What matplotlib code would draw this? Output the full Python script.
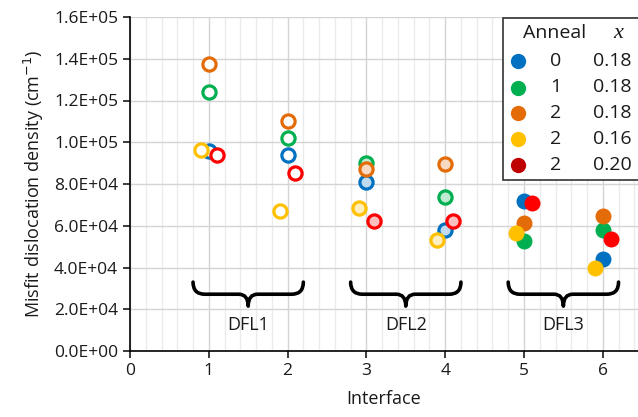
import matplotlib
matplotlib.use("Agg")
import matplotlib.pyplot as plt
from matplotlib.path import Path
from matplotlib.patches import PathPatch, Rectangle
from matplotlib.ticker import FuncFormatter, MultipleLocator
from matplotlib.colors import to_rgb

plt.rcParams['font.family'] = ['Open Sans', 'DejaVu Sans']

# data
interfaces = [1, 2, 3, 4, 5, 6]
anneal = [0, 1, 2, 2, 2]
x_frac = ["0.18", "0.18", "0.18", "0.16", "0.20"]
density = [
    [9.6e4, 9.4e4, 8.1e4, 5.8e4, 7.2e4, 4.4e4],        # anneal 0, x 0.18
    [1.24e5, 1.02e5, 9.0e4, 7.4e4, 5.25e4, 5.8e4],     # anneal 1, x 0.18
    [1.375e5, 1.10e5, 8.7e4, 8.95e4, 6.15e4, 6.45e4],  # anneal 2, x 0.18
    [9.65e4, 6.7e4, 6.85e4, 5.3e4, 5.65e4, 4.0e4],     # anneal 2, x 0.16
    [9.4e4, 8.55e4, 6.25e4, 6.25e4, 7.1e4, 5.35e4],    # anneal 2, x 0.20
]
groups = ["DFL1", "DFL2", "DFL3"]

# styles
colors = ['#0070C0', '#00B050', '#E36C09', '#FFC000', '#FF0000']
legend_colors = ['#0070C0', '#00B050', '#E36C09', '#FFC000', '#C00000']
offsets = [0, 0, 0, -0.1, 0.1]
fill_level = [0, 0, 0.25, 0.25, 1, 1]  # per interface: open, tinted, filled
txt = '#1a1a1a'

fig = plt.figure(figsize=(6.38, 4.17), dpi=100)
ax = fig.add_axes([130 / 638, 1 - 351 / 417, 1 - 130 / 638, (351 - 17) / 417])

for s, dens in enumerate(density):
    c = to_rgb(colors[s])
    for i, xi in enumerate(interfaces):
        f = fill_level[i]
        face = tuple(f * cc + (1 - f) * 1.0 for cc in c)
        if f >= 1:
            ax.plot(xi + offsets[s], dens[i], 'o', ms=11.5, mfc=c, mec=c, mew=0, zorder=3 + s)
        else:
            ax.plot(xi + offsets[s], dens[i], 'o', ms=9.5, mfc=face, mec=c, mew=2.3, zorder=3 + s)

ax.set_xlim(0, 6.447)
ax.set_ylim(0, 1.6e5)
ax.xaxis.set_major_locator(MultipleLocator(1))
ax.xaxis.set_minor_locator(MultipleLocator(0.2))
ax.yaxis.set_major_locator(MultipleLocator(2e4))
ax.yaxis.set_major_formatter(FuncFormatter(lambda v, p: f"{v:.1E}"))
ax.grid(which='major', color='#D4D4D4', lw=1)
ax.grid(which='minor', axis='x', color='#EBEBEB', lw=1)
ax.set_axisbelow(True)
for sp in ['top', 'right']:
    ax.spines[sp].set_visible(False)
ax.spines['left'].set_linewidth(1.2)
ax.spines['bottom'].set_linewidth(1.2)
ax.tick_params(which='major', length=5, width=1.2, labelsize=12.5, colors=txt, labelcolor=txt)
ax.tick_params(which='minor', length=0)
ax.set_xlabel("Interface", fontsize=13, color=txt, labelpad=8)
ax.set_ylabel("Misfit dislocation density (cm$^{-1}$)", fontsize=13, color=txt, labelpad=6)

# braces under pairs of interfaces
ytop, ymid, ybot = 3.3e4, 2.72e4, 2.15e4
for g, name in enumerate(groups):
    a, b = interfaces[2 * g], interfaces[2 * g + 1]
    x0, x1 = a - 0.2, b + 0.2
    xc = (a + b) / 2
    verts = [(x0, ytop), (x0, ymid), (x0 + 0.15, ymid),
             (xc - 0.12, ymid), (xc, ymid), (xc, ybot),
             (xc, ymid), (xc + 0.12, ymid),
             (x1 - 0.15, ymid), (x1, ymid), (x1, ytop)]
    codes = [Path.MOVETO, Path.CURVE3, Path.CURVE3,
             Path.LINETO, Path.CURVE3, Path.CURVE3,
             Path.CURVE3, Path.CURVE3,
             Path.LINETO, Path.CURVE3, Path.CURVE3]
    ax.add_patch(PathPatch(Path(verts, codes), fill=False, lw=2.6, color='black',
                           capstyle='round', joinstyle='round', zorder=2))
    ax.text(xc, 1.25e4, name, ha='center', va='center', fontsize=13, color=txt)

# legend box
fig.patches.append(Rectangle((503 / 638, 1 - 180 / 417), 140 / 638, 162 / 417,
                             transform=fig.transFigure, facecolor='white',
                             edgecolor='#333333', lw=1.2, zorder=20))
fig.text(555 / 638, 1 - 33 / 417, "Anneal", ha='center', va='center', fontsize=14,
         color=txt, zorder=21)
fig.text(618 / 638, 1 - 33 / 417, "x", ha='center', va='center', fontsize=16,
         family='Liberation Serif', style='italic', color=txt, zorder=21)
row_y = [61, 87.5, 113, 139, 165]
for s in range(len(anneal)):
    yy = 1 - row_y[s] / 417
    fig.lines.append(plt.Line2D([518 / 638], [yy], marker='o', ms=11, mfc=legend_colors[s],
                                mec=legend_colors[s], mew=0, transform=fig.transFigure, zorder=21))
    fig.text(556 / 638, yy, str(anneal[s]), ha='center', va='center', fontsize=14,
             color=txt, zorder=21)
    fig.text(612 / 638, yy, x_frac[s], ha='center', va='center', fontsize=14,
             color=txt, zorder=21)

fig.savefig("out.png", dpi=100)
